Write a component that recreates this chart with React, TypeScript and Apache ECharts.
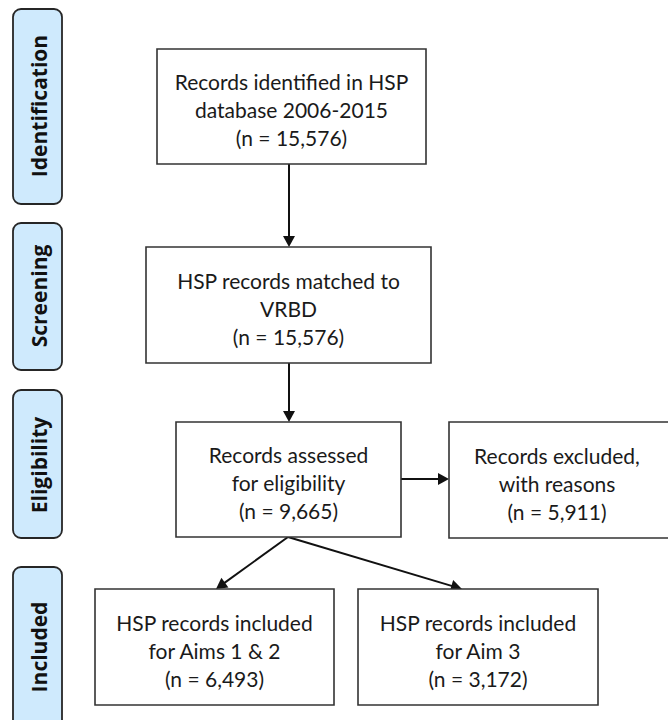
import React, { useEffect, useRef } from "react";
import * as echarts from "echarts";

// ---- data ----
const stageLabels = ["Identification", "Screening", "Eligibility", "Included"];
const boxTexts = [
  ["Records identified in HSP", "database 2006-2015"],
  ["HSP records matched to", "VRBD"],
  ["Records assessed", "for eligibility"],
  ["Records excluded,", "with reasons"],
  ["HSP records included", "for Aims 1 & 2"],
  ["HSP records included", "for Aim 3"],
];
const boxCounts = [15576, 15576, 9665, 5911, 6493, 3172];
// arrows: [fromBox, toBox]
const links = [
  [0, 1],
  [1, 2],
  [2, 3],
  [2, 4],
  [2, 5],
];

// ---- layout ----
const stageRects = [
  [13, 9, 49, 195],
  [13, 223, 49, 147],
  [13, 390, 49, 148],
  [13, 567, 49, 170],
];
const stageTextY = [106, 296, 465, 647];
const boxRects = [
  [157, 49, 269, 115],
  [146, 247, 285, 116],
  [176, 422, 225, 115],
  [449, 422, 224, 116],
  [95, 589, 239, 116],
  [358, 589, 240, 116],
];
const arrowPts = [
  [[289, 164], [289, 247]],
  [[289, 363], [289, 422]],
  [[401, 479], [449, 479]],
  [[288, 537], [216, 589]],
  [[288, 537], [462, 589]],
];

const FONT = "Lato, 'Open Sans', sans-serif";
const LABEL_FONT = "'Open Sans', Lato, sans-serif";

function arrow(p0: number[], p1: number[]) {
  const dx = p1[0] - p0[0];
  const dy = p1[1] - p0[1];
  const len = Math.sqrt(dx * dx + dy * dy);
  const ux = dx / len;
  const uy = dy / len;
  const hl = 11;
  const hw = 6;
  const bx = p1[0] - ux * hl;
  const by = p1[1] - uy * hl;
  return [
    {
      type: "line",
      shape: { x1: p0[0], y1: p0[1], x2: bx + ux * 1, y2: by + uy * 1 },
      style: { stroke: "#111", lineWidth: 2 },
    },
    {
      type: "polygon",
      shape: {
        points: [
          [p1[0], p1[1]],
          [bx - uy * hw, by + ux * hw],
          [bx + uy * hw, by - ux * hw],
        ],
      },
      style: { fill: "#111" },
    },
  ];
}

export default function App() {
  const ref = useRef<HTMLDivElement>(null);
  useEffect(() => {
    if (!ref.current) return;
    const chart = echarts.init(ref.current, null, { renderer: "svg" });
    const elements: any[] = [];

    stageLabels.forEach((label, i) => {
      const [x, y, w, h] = stageRects[i];
      elements.push({
        type: "rect",
        shape: { x, y, width: w, height: h, r: 8 },
        style: { fill: "#cfeafd", stroke: "#262626", lineWidth: 1.8 },
      });
      elements.push({
        type: "text",
        x: x + w / 2 + 1,
        y: stageTextY[i],
        rotation: Math.PI / 2,
        style: {
          text: label,
          align: "center",
          verticalAlign: "middle",
          font: `bold 21px ${LABEL_FONT}`,
          fill: "#111",
        },
      });
    });

    links.forEach((_, i) => {
      const [p0, p1] = arrowPts[i];
      elements.push(...arrow(p0, p1));
    });

    boxTexts.forEach((lines, i) => {
      const [x, y, w, h] = boxRects[i];
      elements.push({
        type: "rect",
        shape: { x, y, width: w, height: h },
        style: { fill: "#fff", stroke: "#333", lineWidth: 1.6 },
      });
      const text = [...lines, `(n = ${boxCounts[i].toLocaleString("en-US")})`].join("\n");
      const cx = i === 3 ? x + 108 : x + w / 2;
      elements.push({
        type: "text",
        x: cx,
        y: y + h / 2 + 3,
        style: {
          text,
          align: "center",
          verticalAlign: "middle",
          font: `21px ${FONT}`,
          lineHeight: 28,
          fill: "#1a1a1a",
        },
      });
    });

    chart.setOption({
      animation: false,
      backgroundColor: "#fff",
      graphic: { elements },
    });
    return () => chart.dispose();
  }, []);
  return (
    <div
      ref={ref}
      style={{ position: "fixed", left: 0, top: 0, width: 668, height: 720 }}
    />
  );
}
